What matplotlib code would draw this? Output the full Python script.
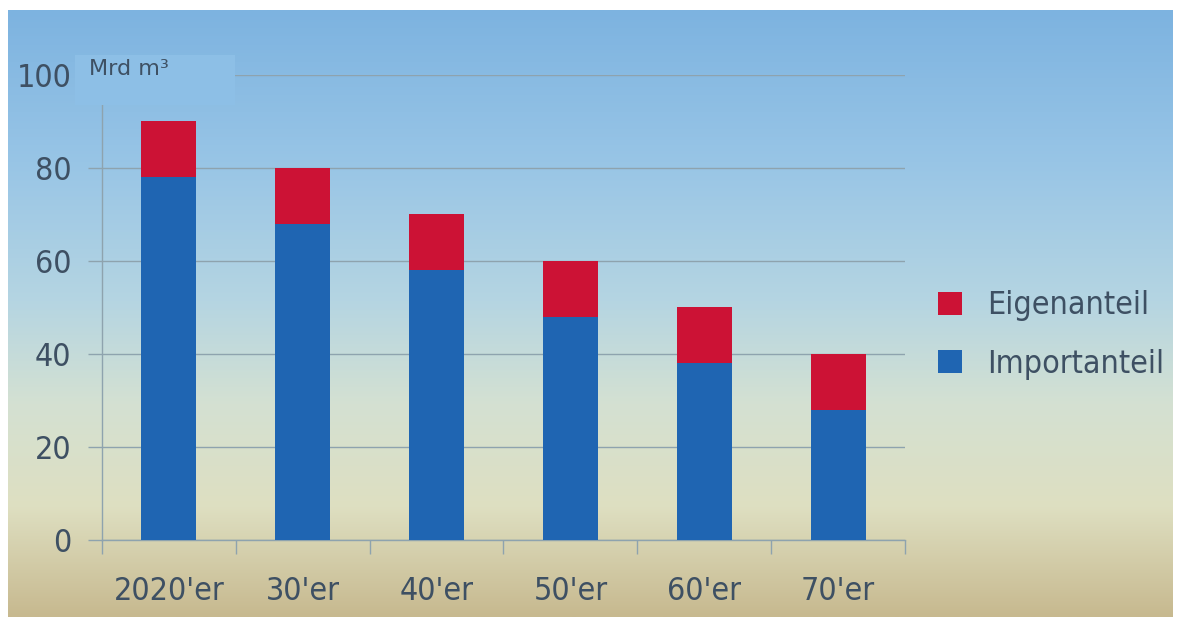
import numpy as np
import matplotlib.pyplot as plt
from matplotlib.colors import LinearSegmentedColormap
from matplotlib.patches import Rectangle

plt.rcParams['font.family'] = ['DejaVu Sans']
plt.rcParams['font.stretch'] = 'condensed'

# Data (Mrd m³)
decades = ["2020'er", "30'er", "40'er", "50'er", "60'er", "70'er"]
importanteil = [78, 68, 58, 48, 38, 28]
eigenanteil = [12, 12, 12, 12, 12, 12]

blue = '#1f65b2'
red = '#cc1235'
text_col = '#3e5063'
grid_col = '#8ea3ae'

fig = plt.figure(figsize=(11.85, 6.21), dpi=100)
fig.patch.set_facecolor('white')

# gradient background panel
bg = fig.add_axes([8 / 1185, 1 - 617 / 621, 1165 / 1185, 607 / 621])
bg.set_axis_off()
cmap = LinearSegmentedColormap.from_list('sky', [
    (0.0, '#7db3e0'), (0.25, '#98c5e6'), (0.48, '#b5d5e2'),
    (0.65, '#d4e1d2'), (0.82, '#dedfc1'), (1.0, '#c7b98f')])
grad = np.linspace(0, 1, 256).reshape(-1, 1)
bg.imshow(grad, aspect='auto', cmap=cmap, extent=[0, 1, 1, 0])
bg.set_xlim(0, 1)
bg.set_ylim(1, 0)

ax = fig.add_axes([102 / 1185, 1 - 540 / 621, 803 / 1185, 465 / 621])
ax.set_facecolor('none')

x = np.arange(len(decades))
w = 0.41
ax.bar(x, importanteil, w, color=blue, label='Importanteil', zorder=3)
ax.bar(x, eigenanteil, w, bottom=importanteil, color=red, label='Eigenanteil', zorder=3)

ax.set_xlim(-0.5, len(decades) - 0.5)
ax.set_ylim(0, 100)
ax.set_yticks([0, 20, 40, 60, 80, 100])
ax.yaxis.grid(True, color=grid_col, linewidth=1, zorder=1)
ax.set_axisbelow(True)

# category labels centred, tick marks on category boundaries
ax.set_xticks(x)
ax.set_xticklabels(decades)
ax.tick_params(axis='x', length=0, pad=26, labelsize=23, labelcolor=text_col)
ax.set_xticks(np.arange(-0.5, len(decades)), minor=True)
ax.tick_params(axis='x', which='minor', length=10, color=grid_col, width=1)
ax.tick_params(axis='y', length=10, color=grid_col, width=1, pad=12,
               labelsize=23, labelcolor=text_col)

for s in ['top', 'right']:
    ax.spines[s].set_visible(False)
for s in ['left', 'bottom']:
    ax.spines[s].set_color(grid_col)
    ax.spines[s].set_linewidth(1)

# unit label box
fig.patches.append(Rectangle((75 / 1185, 1 - 105 / 621), 160 / 1185, 50 / 621,
                             transform=fig.transFigure, facecolor='#8dbfe6',
                             edgecolor='none', zorder=2))
fig.text(89 / 1185, 1 - 69 / 621, 'Mrd m³', fontsize=16, fontstretch='normal',
         color=text_col, va='center', ha='left', zorder=3)

# legend
handles, labels = ax.get_legend_handles_labels()
fig.legend(handles[::-1], labels[::-1], loc='center left',
           bbox_to_anchor=(909 / 1185, 1 - 335 / 621), frameon=False,
           fontsize=23, labelcolor=text_col, handlelength=0.75, handleheight=0.75,
           handletextpad=0.8, labelspacing=0.85)

fig.savefig('out.png', dpi=100)
